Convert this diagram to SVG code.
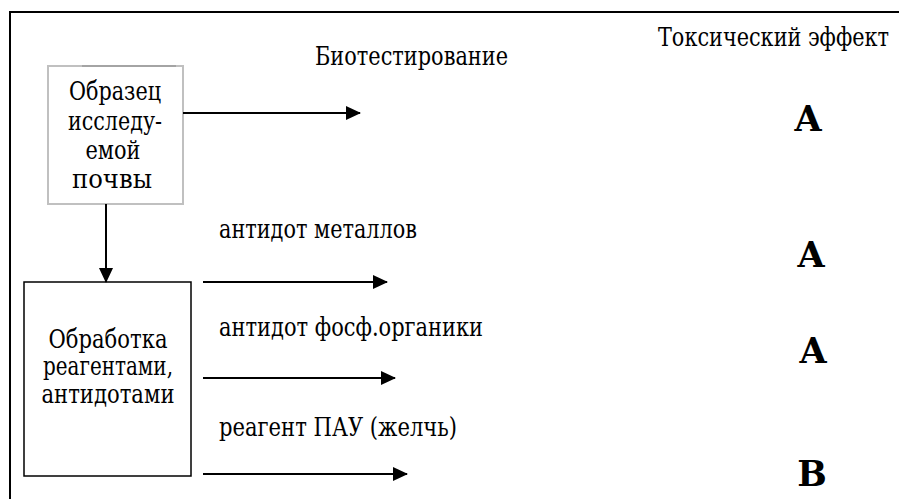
<svg xmlns="http://www.w3.org/2000/svg" width="899" height="499" viewBox="0 0 899 499">
<style>
.t{font-size:26px}
.b{font-size:35px;font-weight:bold}
.c{text-anchor:middle}
.ln{stroke:#000;stroke-width:2;fill:none}
</style>
<defs>
<marker id="ah" markerWidth="15" markerHeight="14" refX="14" refY="7" orient="auto" markerUnits="userSpaceOnUse">
<path d="M0,0 L15,7 L0,14 Z" fill="#000"/>
</marker>
</defs>
<rect width="899" height="499" fill="#fff"/>
<g id="frame">
<path d="M10,499 V12 H899" stroke="#000" stroke-width="2" fill="none"/>
</g>
<g font-family="'DejaVu Serif', 'Noto Serif', FreeSerif, 'Liberation Serif', serif" fill="#000">
<g id="sample">
<rect x="48" y="66" width="135" height="138" fill="#fff" stroke="#c0c0c0" stroke-width="2"/>
<line x1="82" y1="66" x2="176" y2="66" stroke="#888" stroke-width="1"/>
<text class="t c" x="115" y="100" textLength="92" lengthAdjust="spacingAndGlyphs">Образец</text>
<text class="t c" x="115" y="130" textLength="94" lengthAdjust="spacingAndGlyphs">исследу-</text>
<text class="t c" x="113" y="159" textLength="55" lengthAdjust="spacingAndGlyphs">емой</text>
<text class="t c" x="112" y="188" textLength="80" lengthAdjust="spacingAndGlyphs">почвы</text>
</g>
<g id="treatment">
<rect x="24" y="282" width="167" height="194" fill="#fff" stroke="#000" stroke-width="1.5"/>
<text class="t c" x="108" y="348" textLength="119" lengthAdjust="spacingAndGlyphs">Обработка</text>
<text class="t c" x="108" y="375" textLength="130" lengthAdjust="spacingAndGlyphs">реагентами,</text>
<text class="t c" x="108" y="403" textLength="133" lengthAdjust="spacingAndGlyphs">антидотами</text>
</g>
<g id="labels">
<text class="t" x="315" y="65" textLength="193" lengthAdjust="spacingAndGlyphs">Биотестирование</text>
<text class="t" x="658" y="46" textLength="231" lengthAdjust="spacingAndGlyphs">Токсический эффект</text>
<text class="t" x="219" y="238" textLength="198" lengthAdjust="spacingAndGlyphs">антидот металлов</text>
<text class="t" x="219" y="336" textLength="264" lengthAdjust="spacingAndGlyphs">антидот фосф.органики</text>
<text class="t" x="219" y="436" textLength="238" lengthAdjust="spacingAndGlyphs">реагент ПАУ (желчь)</text>
</g>
<g id="effects">
<text class="b c" x="808" y="131">A</text>
<text class="b c" x="811" y="267">A</text>
<text class="b c" x="813" y="363">A</text>
<text class="b c" x="812" y="486">B</text>
</g>
</g>
<g id="connectors">
<line class="ln" x1="183" y1="113" x2="360" y2="113" marker-end="url(#ah)"/>
<line class="ln" x1="106" y1="204" x2="106" y2="282" marker-end="url(#ah)"/>
<line class="ln" x1="203" y1="282" x2="387" y2="282" marker-end="url(#ah)"/>
<line class="ln" x1="203" y1="378" x2="395" y2="378" marker-end="url(#ah)"/>
<line class="ln" x1="203" y1="474" x2="407" y2="474" marker-end="url(#ah)"/>
</g>
</svg>
